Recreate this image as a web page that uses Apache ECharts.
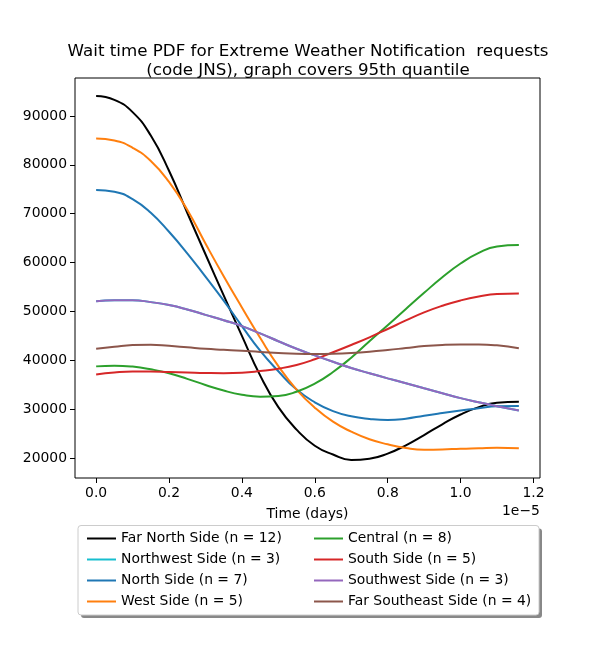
<!DOCTYPE html>
<html>
<head>
<meta charset="utf-8">
<script src="https://cdn.jsdelivr.net/npm/echarts@6/dist/echarts.min.js"></script>
<style>
  html, body { margin: 0; padding: 0; background: #fff; }
  #chart { width: 600px; height: 650px; }
</style>
</head>
<body>
<div id="chart"></div>
<script>
// time values in units of 1e-5 days
const xValues = [0, 0.05, 0.1, 0.15, 0.2, 0.25, 0.3, 0.35, 0.4, 0.45, 0.5, 0.55, 0.6,
  0.65, 0.7, 0.75, 0.8, 0.85, 0.9, 0.95, 1.0, 1.05, 1.1, 1.16];

const farNorth = [94100, 93300, 90800, 86000, 78800, 70200, 61700, 53300, 45000, 36900, 30400, 25800, 22500,
  20700, 19600, 19850, 20900, 22600, 24700, 26900, 28900, 30400, 31300, 31500];
const northwest = [52100, 52300, 52300, 51900, 51300, 50400, 49300, 48200, 47000, 45500, 43900, 42350, 41000,
  39700, 38420, 37340, 36300, 35290, 34260, 33250, 32250, 31400, 30600, 29700];
const north = [74860, 74500, 73000, 70200, 66300, 61900, 57100, 52200, 47000, 41970, 37750, 34000, 31400,
  29600, 28530, 28000, 27780, 28050, 28660, 29200, 29700, 30200, 30600, 30650];
const west = [85400, 85000, 83500, 80800, 76500, 70800, 63900, 57200, 50800, 44600, 38800, 34000, 30300,
  27430, 25380, 23820, 22800, 22050, 21700, 21750, 21900, 22000, 22100, 22000];
const central = [38750, 38900, 38700, 38150, 37350, 36200, 34950, 33800, 32950, 32550, 32690, 33570, 35210,
  37600, 40530, 43890, 47160, 50500, 53800, 57000, 59800, 62000, 63300, 63600];
const south = [37100, 37500, 37700, 37700, 37600, 37500, 37400, 37350, 37450, 37800, 38280, 39040, 40200,
  41630, 43130, 44700, 46400, 48150, 49800, 51150, 52250, 53050, 53550, 53650];
const southwest = [52100, 52300, 52300, 51900, 51300, 50400, 49300, 48200, 47000, 45500, 43900, 42350, 41000,
  39700, 38420, 37340, 36300, 35290, 34260, 33250, 32250, 31400, 30600, 29700];
const farSoutheast = [42350, 42750, 43100, 43200, 42950, 42650, 42350, 42150, 41950, 41700, 41500, 41350, 41300,
  41350, 41500, 41750, 42100, 42500, 42900, 43150, 43250, 43250, 43050, 42450];

const xTicks = [0, 0.2, 0.4, 0.6, 0.8, 1.0, 1.2];
const yTicks = [20000, 30000, 40000, 50000, 60000, 70000, 80000, 90000];

const seriesDefs = [
  { name: 'Far North Side (n = 12)', data: farNorth, color: '#000000' },
  { name: 'Northwest Side (n = 3)', data: northwest, color: '#17becf' },
  { name: 'North Side (n = 7)', data: north, color: '#1f77b4' },
  { name: 'West Side (n = 5)', data: west, color: '#ff7f0e' },
  { name: 'Central (n = 8)', data: central, color: '#2ca02c' },
  { name: 'South Side (n = 5)', data: south, color: '#d62728' },
  { name: 'Southwest Side (n = 3)', data: southwest, color: '#9467bd' },
  { name: 'Far Southeast Side (n = 4)', data: farSoutheast, color: '#8c564b' }
];

const font = 'DejaVu Sans';
const chart = echarts.init(document.getElementById('chart'));

const legendCommon = {
  orient: 'vertical',
  top: 523,
  itemWidth: 29,
  itemHeight: 2,
  itemGap: 0,
  icon: 'rect',
  textStyle: { fontFamily: font, fontSize: 13.9, color: '#000', lineHeight: 21 }
};

chart.setOption({
  animation: false,
  backgroundColor: '#fff',
  title: {
    text: 'Wait time PDF for Extreme Weather Notification  requests\n(code JNS), graph covers 95th quantile',
    left: 303,
    textAlign: 'center',
    top: 37,
    textStyle: { fontFamily: font, fontSize: 16.7, fontWeight: 'normal', color: '#000', lineHeight: 19 }
  },
  grid: {
    left: 75, right: 60, top: 78, bottom: 172,
    show: true, borderColor: '#000', borderWidth: 1, backgroundColor: 'transparent'
  },
  legend: [
    Object.assign({}, legendCommon, { left: 82, data: seriesDefs.slice(0, 4).map(s => s.name) }),
    Object.assign({}, legendCommon, { left: 309, data: seriesDefs.slice(4).map(s => s.name) })
  ],
  xAxis: {
    type: 'value',
    min: -0.058,
    max: 1.218,
    name: 'Time (days)',
    nameLocation: 'middle',
    nameGap: 29,
    nameTextStyle: { fontFamily: font, fontSize: 13.9, color: '#000' },
    axisLine: { show: false, onZero: false },
    splitLine: { show: false },
    axisTick: { show: true, length: 5, lineStyle: { color: '#000' }, customValues: xTicks },
    axisLabel: {
      fontFamily: font, fontSize: 13.9, color: '#000', margin: 8,
      customValues: xTicks,
      formatter: v => v.toFixed(1)
    }
  },
  yAxis: {
    type: 'value',
    min: 15900,
    max: 97780,
    axisLine: { show: false, onZero: false },
    splitLine: { show: false },
    axisTick: { show: true, length: 5, lineStyle: { color: '#000' }, customValues: yTicks },
    axisLabel: {
      fontFamily: font, fontSize: 13.9, color: '#000', margin: 8,
      customValues: yTicks,
      formatter: v => String(v)
    }
  },
  graphic: [
    {
      type: 'text', left: 502, top: 504,
      style: { text: '1e\u22125', font: '13.9px "DejaVu Sans"', fill: '#000' }
    },
    {
      type: 'rect', z: 0,
      shape: { x: 81, y: 528.5, width: 461, height: 89.5, r: 3 },
      style: { fill: '#888' }
    },
    {
      type: 'rect', z: 1,
      shape: { x: 78, y: 525.5, width: 461, height: 89.5, r: 3 },
      style: { fill: '#fff', stroke: '#cccccc', lineWidth: 1 }
    }
  ],
  series: seriesDefs.map(s => ({
    name: s.name,
    type: 'line',
    smooth: 0.5,
    showSymbol: false,
    symbol: 'none',
    color: s.color,
    lineStyle: { width: 2, color: s.color },
    data: xValues.map((x, i) => [x, s.data[i]])
  }))
});
</script>
</body>
</html>
